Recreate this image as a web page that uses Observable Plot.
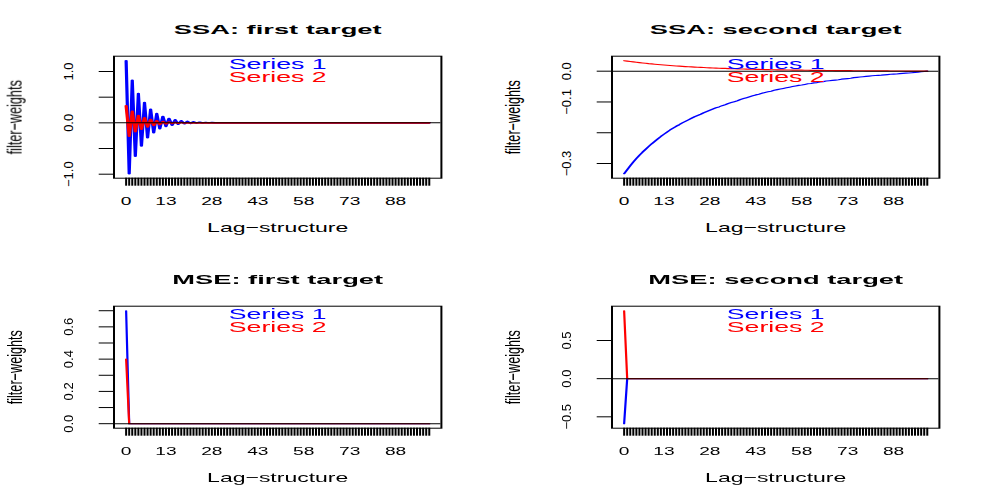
<!DOCTYPE html>
<html><head><meta charset="utf-8">
<script src="https://cdn.jsdelivr.net/npm/d3@7"></script>
<script src="https://cdn.jsdelivr.net/npm/@observablehq/plot@0.6"></script>
<style>
html,body{margin:0;padding:0;background:#fff;overflow:hidden;}
#stage{position:absolute;left:0;top:0;width:498px;height:498px;transform:scaleX(2);transform-origin:0 0;display:grid;grid-template-columns:249px 249px;grid-template-rows:249px 249px;}
#stage svg{display:block;}
</style></head><body><div id="stage"></div><script>
const lags = [
0,1,2,3,4,5,6,7,8,9,10,11,12,13,14,15,16,17,18,19,
20,21,22,23,24,25,26,27,28,29,30,31,32,33,34,35,36,37,38,39,
40,41,42,43,44,45,46,47,48,49,50,51,52,53,54,55,56,57,58,59,
60,61,62,63,64,65,66,67,68,69,70,71,72,73,74,75,76,77,78,79,
80,81,82,83,84,85,86,87,88,89,90,91,92,93,94,95,96,97,98,99];
const xLabelLags = [0,13,28,43,58,73,88];
const titles = ["SSA: first target","SSA: second target","MSE: first target","MSE: second target"];
const seriesNames = ["Series 1","Series 2"];
const xTitle = "Lag\u2212structure";
const yTitle = "filter\u2212weights";

const ssa1Series1 = [
1.21,-0.99,0.83,-0.65,0.57,-0.45,0.395,-0.29,0.265,-0.19,
0.18,-0.115,0.125,-0.07,0.085,-0.045,0.058,-0.028,0.04,-0.017,
0.027,-0.01,0.018,-0.006,0.012,-0.003,0.008,-0.002,0.005,-0.001,
0.003,0,0.002,0,0.001,0,0,0,0,0,
0,0,0,0,0,0,0,0,0,0,
0,0,0,0,0,0,0,0,0,0,
0,0,0,0,0,0,0,0,0,0,
0,0,0,0,0,0,0,0,0,0,
0,0,0,0,0,0,0,0,0,0,
0,0,0,0,0,0,0,0,0,0];
const ssa1Series2 = [
0.33,-0.26,0.225,-0.17,0.14,-0.125,0.10,-0.08,0.065,-0.05,
0.04,-0.032,0.025,-0.02,0.015,-0.012,0.009,-0.007,0.005,-0.004,
0.003,-0.002,0.0015,-0.001,0.001,0,0,0,0,0,
0,0,0,0,0,0,0,0,0,0,
0,0,0,0,0,0,0,0,0,0,
0,0,0,0,0,0,0,0,0,0,
0,0,0,0,0,0,0,0,0,0,
0,0,0,0,0,0,0,0,0,0,
0,0,0,0,0,0,0,0,0,0,
0,0,0,0,0,0,0,0,0,0];
const ssa2Series1 = [
-0.333,-0.320,-0.307,-0.295,-0.284,-0.273,-0.263,-0.254,-0.245,-0.236,
-0.228,-0.220,-0.212,-0.205,-0.198,-0.191,-0.185,-0.179,-0.174,-0.168,
-0.163,-0.158,-0.153,-0.148,-0.144,-0.140,-0.135,-0.131,-0.127,-0.123,
-0.119,-0.116,-0.112,-0.109,-0.105,-0.102,-0.099,-0.096,-0.092,-0.089,
-0.086,-0.083,-0.080,-0.077,-0.075,-0.072,-0.069,-0.067,-0.065,-0.062,
-0.060,-0.058,-0.056,-0.054,-0.052,-0.050,-0.048,-0.046,-0.045,-0.043,
-0.041,-0.040,-0.038,-0.037,-0.035,-0.034,-0.032,-0.031,-0.030,-0.029,
-0.028,-0.026,-0.025,-0.024,-0.023,-0.021,-0.020,-0.019,-0.018,-0.017,
-0.016,-0.015,-0.014,-0.0135,-0.013,-0.012,-0.011,-0.010,-0.0095,-0.009,
-0.008,-0.007,-0.0065,-0.006,-0.005,-0.004,-0.003,-0.002,-0.001,0];
const ssa2Series2 = [
0.0340,0.0326,0.0313,0.0301,0.0289,0.0277,0.0266,0.0256,0.0245,0.0236,
0.0226,0.0217,0.0208,0.0200,0.0192,0.0184,0.0177,0.0170,0.0163,0.0157,
0.0150,0.0144,0.0139,0.0133,0.0128,0.0123,0.0118,0.0113,0.0109,0.0104,
0.0100,0.0096,0.0092,0.0089,0.0085,0.0082,0.0079,0.0075,0.0072,0.0070,
0.0067,0.0064,0.0062,0.0059,0.0057,0.0055,0.0052,0.0050,0.0048,0.0046,
0.0044,0.0043,0.0041,0.0039,0.0038,0.0036,0.0035,0.0033,0.0032,0.0031,
0.0030,0.0028,0.0027,0.0026,0.0025,0.0024,0.0023,0.0022,0.0021,0.0020,
0.0019,0.0018,0.0017,0.0016,0.0016,0.0015,0.0014,0.0013,0.0013,0.0012,
0.0011,0.0011,0.0010,0.0009,0.0009,0.0008,0.0008,0.0007,0.0007,0.0006,
0.0005,0.0005,0.0004,0.0004,0.0003,0.0003,0.0002,0.0002,0.0001,0];
const mse1Series1 = [
0.70,0,0,0,0,0,0,0,0,0,
0,0,0,0,0,0,0,0,0,0,
0,0,0,0,0,0,0,0,0,0,
0,0,0,0,0,0,0,0,0,0,
0,0,0,0,0,0,0,0,0,0,
0,0,0,0,0,0,0,0,0,0,
0,0,0,0,0,0,0,0,0,0,
0,0,0,0,0,0,0,0,0,0,
0,0,0,0,0,0,0,0,0,0,
0,0,0,0,0,0,0,0,0,0];
const mse1Series2 = [
0.40,0,0,0,0,0,0,0,0,0,
0,0,0,0,0,0,0,0,0,0,
0,0,0,0,0,0,0,0,0,0,
0,0,0,0,0,0,0,0,0,0,
0,0,0,0,0,0,0,0,0,0,
0,0,0,0,0,0,0,0,0,0,
0,0,0,0,0,0,0,0,0,0,
0,0,0,0,0,0,0,0,0,0,
0,0,0,0,0,0,0,0,0,0,
0,0,0,0,0,0,0,0,0,0];
const mse2Series1 = [
-0.59,0,0,0,0,0,0,0,0,0,
0,0,0,0,0,0,0,0,0,0,
0,0,0,0,0,0,0,0,0,0,
0,0,0,0,0,0,0,0,0,0,
0,0,0,0,0,0,0,0,0,0,
0,0,0,0,0,0,0,0,0,0,
0,0,0,0,0,0,0,0,0,0,
0,0,0,0,0,0,0,0,0,0,
0,0,0,0,0,0,0,0,0,0,
0,0,0,0,0,0,0,0,0,0];
const mse2Series2 = [
0.89,0,0,0,0,0,0,0,0,0,
0,0,0,0,0,0,0,0,0,0,
0,0,0,0,0,0,0,0,0,0,
0,0,0,0,0,0,0,0,0,0,
0,0,0,0,0,0,0,0,0,0,
0,0,0,0,0,0,0,0,0,0,
0,0,0,0,0,0,0,0,0,0,
0,0,0,0,0,0,0,0,0,0,
0,0,0,0,0,0,0,0,0,0,
0,0,0,0,0,0,0,0,0,0];

const ssa1YTicks = [-1,-0.5,0,0.5,1], ssa1YLabels = [-1,0,1];
const ssa2YTicks = [-0.3,-0.2,-0.1,0], ssa2YLabels = [-0.3,-0.1,0];
const mse1YTicks = [0,0.1,0.2,0.3,0.4,0.5,0.6,0.7], mse1YLabels = [0,0.2,0.4,0.6];
const mse2YTicks = [-0.5,0,0.5], mse2YLabels = [-0.5,0,0.5];

const fmt = v => (v < 0 ? "\u2212" : "") + Math.abs(v).toFixed(1);
const FONT = "'Liberation Sans', Arial, Helvetica, sans-serif";

// local text stretch [along text, across text] applied after the page-wide 2x horizontal stretch
const ROLE = {
  title: [1.05, 1], s1: [0.92, 1], s2: [0.92, 1], xtick: [0.96, 1], xlabel: [0.885, 1],
  ytick: [1.08, 0.52], ylabel: [1.15, 0.95]
};

function stretchTexts(svg, roles) {
  const groups = svg.querySelectorAll('g[aria-label="text"]');
  groups.forEach((g, k) => {
    const r = ROLE[roles[k]]; if (!r) return;
    g.querySelectorAll("text").forEach(t => {
      let tr = t.getAttribute("transform");
      if (!tr) {
        const x = t.getAttribute("x") || 0, y = t.getAttribute("y") || 0;
        t.removeAttribute("x"); t.removeAttribute("y");
        tr = `translate(${x},${y})`;
      }
      t.setAttribute("transform", `${tr} scale(${r[0]},${r[1]})`);
    });
  });
}

function panel(title, s1, s2, yTicks, yLabels, row, lw) {
  const ext = d3.extent([...s1, ...s2]);
  const pad = (ext[1] - ext[0]) * 0.04;
  const xext = d3.extent(lags), xpad = (xext[1] - xext[0]) * 0.04;
  const mt = row === 0 ? 55.7 : 56.7, mb = row === 0 ? 71.3 : 70.3;
  const svg = Plot.plot({
    width: 249, height: 249,
    marginLeft: 56.5, marginRight: 28.8, marginTop: mt, marginBottom: mb,
    x: {domain: [xext[0] - xpad, xext[1] + xpad], axis: null},
    y: {domain: [ext[0] - pad, ext[1] + pad], axis: null},
    style: {fontFamily: FONT, background: "white", overflow: "visible", color: "black"},
    marks: [
      Plot.line(s1, {x: (d, i) => lags[i], y: d => d, stroke: "#0000ff", strokeWidth: lw}),
      Plot.line(s2, {x: (d, i) => lags[i], y: d => d, stroke: "#ff0000", strokeWidth: lw}),
      Plot.ruleY([0], {stroke: "black", strokeWidth: 1}),
      Plot.frame({stroke: "black", strokeWidth: 1}),
      Plot.axisX(lags, {tickSize: 8, fill: "none", stroke: "black", strokeWidth: 1, label: null}),
      Plot.axisY(yTicks, {tickSize: 7.15, fill: "none", stroke: "black", strokeWidth: 1, label: null}),
      Plot.text([title], {text: d => d, frameAnchor: "top", dy: -22.4, lineAnchor: "bottom", fontWeight: "bold", fontSize: 13, fill: "black"}),
      Plot.text([seriesNames[0]], {text: d => d, frameAnchor: "top", dy: 12.4, lineAnchor: "bottom", fontSize: 14.5, fill: "#0000ff"}),
      Plot.text([seriesNames[1]], {text: d => d, frameAnchor: "top", dy: 26, lineAnchor: "bottom", fontSize: 14.5, fill: "#ff0000"}),
      Plot.text(xLabelLags, {x: d => d, text: d => String(d), frameAnchor: "bottom", dy: 26.3, lineAnchor: "bottom", fontSize: 10, fill: "black"}),
      Plot.text([xTitle], {text: d => d, frameAnchor: "bottom", dy: 54, lineAnchor: "bottom", fontSize: 13, fill: "black"}),
      Plot.text(yLabels, {y: d => d, text: fmt, frameAnchor: "left", dx: -20.5, rotate: -90, textAnchor: "middle", lineAnchor: "bottom", fontSize: 12, fill: "black"}),
      Plot.text([yTitle], {text: d => d, frameAnchor: "left", dx: -46, rotate: -90, textAnchor: "middle", lineAnchor: "bottom", fontSize: 11, fill: "black"})
    ]
  });
  stretchTexts(svg, ["title", "s1", "s2", "xtick", "xlabel", "ytick", "ylabel"]);
  return svg;
}

const stage = document.getElementById("stage");
stage.appendChild(panel(titles[0], ssa1Series1, ssa1Series2, ssa1YTicks, ssa1YLabels, 0, 1.6));
stage.appendChild(panel(titles[1], ssa2Series1, ssa2Series2, ssa2YTicks, ssa2YLabels, 0, 1.15));
stage.appendChild(panel(titles[2], mse1Series1, mse1Series2, mse1YTicks, mse1YLabels, 1, 1.1));
stage.appendChild(panel(titles[3], mse2Series1, mse2Series2, mse2YTicks, mse2YLabels, 1, 1.1));
</script></body></html>
